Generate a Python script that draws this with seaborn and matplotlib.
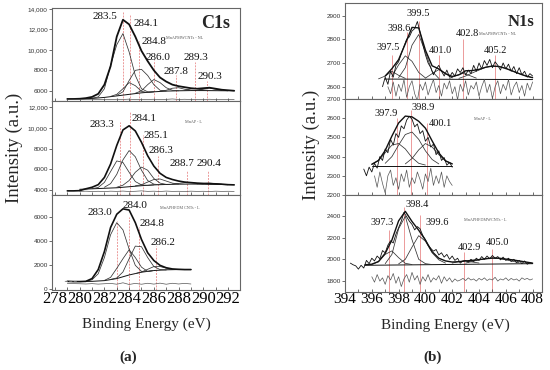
import numpy as np
import matplotlib
matplotlib.use("Agg")
import matplotlib.pyplot as plt
from matplotlib.ticker import FuncFormatter, MultipleLocator, FixedLocator
import seaborn as sns

# ============================================================ data
# each series: (first binding energy, step, intensities)
# ---- (a) C1s, MnAPMWCNTs - NL
c1_nl_env = (279.0, 0.5, [5200, 5200, 5220, 5280, 5400, 5700, 6600, 8400, 11300, 12950, 12500, 11300,
                          9900, 8900, 8000, 7300, 6900, 6600, 6450, 6350, 6250, 6200, 6250, 6300,
                          6200, 6100, 6050, 6000])
c1_nl_bg = (279.0, 1.0, [5200, 5200, 5250, 5350, 5500, 5650, 5800, 5900, 5970, 6000, 6020, 6020, 6010, 6000])
c1_nl_comp = [(281.0, 0.5, [5270, 5400, 6200, 8500, 10500, 11600, 9800, 7500, 6200, 5900, 5900]),
              (282.5, 0.5, [5450, 5650, 6200, 6800, 6500, 5950, 5820, 5900]),
              (283.0, 0.5, [5550, 5900, 7000, 8000, 8100, 7500, 6600, 6050, 5970]),
              (284.5, 0.5, [5760, 6000, 6600, 7100, 6800, 6300, 6050, 6000]),
              (286.5, 0.5, [5950, 6050, 6250, 6300, 6150, 6040]),
              (288.5, 0.5, [6050, 6180, 6220, 6100, 6030]),
              (289.5, 0.5, [6050, 6200, 6270, 6150, 6030])]
c1_nl_res = (279.0, 0.5, [5180, 5170, 5160, 5150, 5170, 5140, 5160, 5130, 5170, 5150, 5180, 5140, 5160, 5150,
                          5170, 5140, 5160, 5200, 5150, 5170, 5140, 5160, 5150, 5170, 5140, 5160, 5150, 5160])
c1_nl_peaks = [283.5, 284.1, 284.8, 286.0, 287.8, 289.3, 290.3]

# ---- (a) C1s, MnAP - L
c1_l_env = (279.0, 0.5, [3900, 3900, 3920, 4100, 4250, 4500, 5200, 6500, 8300, 9800, 10200, 9700, 8600,
                         7300, 6300, 5600, 5200, 5000, 4850, 4750, 4700, 4650, 4620, 4600, 4580, 4550,
                         4500, 4480])
c1_l_bg = (280.0, 1.0, [4050, 4100, 4150, 4200, 4300, 4400, 4480, 4520, 4550, 4560, 4550, 4530, 4500])
c1_l_comp = [(281.0, 0.5, [4110, 4230, 4720, 5770, 6800, 6650, 5700, 4800, 4480, 4430, 4480]),
             (282.0, 0.5, [4250, 4600, 5500, 6900, 7800, 7200, 5900, 4900, 4550, 4500]),
             (283.0, 0.5, [4250, 4450, 4900, 5700, 6200, 5900, 5100, 4650, 4530]),
             (284.5, 0.5, [4380, 4500, 4750, 5000, 5050, 4850, 4650, 4560]),
             (287.5, 0.5, [4560, 4620, 4700, 4700, 4620, 4560]),
             (289.5, 0.5, [4570, 4620, 4660, 4600, 4540])]
c1_l_res = (280.0, 0.5, [3850, 3870, 3840, 3860, 3830, 3870, 3850, 3880, 3840, 3860, 3900, 3850, 3870,
                         3840, 3880, 3850, 3860, 3840, 3870, 3850, 3860, 3840, 3870, 3850, 3860, 3850])
c1_l_peaks = [283.3, 284.1, 285.1, 286.3, 288.7, 290.4]

# ---- (a) C1s, MnAPHFDM CNTs - L
c1_h_env = (279.0, 0.5, [620, 600, 600, 620, 850, 1600, 3100, 5100, 6200, 6650, 6550, 5500, 4100, 3000,
                         2350, 1950, 1750, 1650, 1620, 1600, 1600])
c1_h_bg = (280.0, 1.0, [600, 620, 680, 850, 1150, 1380, 1520, 1580, 1600, 1600])
c1_h_comp = [(280.5, 0.5, [620, 750, 1250, 2600, 4500, 5500, 4900, 3300, 1950, 1450, 1440, 1520]),
             (282.0, 0.5, [700, 950, 1700, 2500, 3250, 2600, 1800, 1450, 1520]),
             (282.5, 0.5, [780, 900, 1400, 2500, 3550, 3500, 2600, 1850, 1600, 1560]),
             (284.5, 0.5, [1260, 1400, 1620, 1850, 1850, 1720, 1620, 1600])]
c1_h_res = (279.0, 0.5, [450, 430, 420, 400, 430, 390, 420, 450, 380, 500, 360, 450, 380, 460, 390, 470,
                         380, 460, 400, 450, 400])
c1_h_lead = (278.8, 0.5, [620, 610, 600])
c1_h_peaks = [283.0, 284.0, 284.8, 286.2]

# ---- (b) N1s, MnAPMWCNTs - NL
n1_nl_raw = (396.8, 0.2, [2600, 2640, 2610, 2665, 2640, 2690, 2705, 2740, 2770, 2800, 2810, 2835, 2845,
                          2875, 2830, 2780, 2735, 2700, 2680, 2650, 2675, 2690, 2665, 2645, 2670, 2640,
                          2660, 2645, 2675, 2660, 2680, 2650, 2670, 2655, 2690, 2665, 2700, 2675, 2710,
                          2690, 2715, 2680, 2705, 2690, 2670, 2700, 2675, 2695, 2665, 2685, 2655, 2680,
                          2650, 2665, 2640, 2655, 2645])
n1_nl_env = (397.0, 0.5, [2645, 2676, 2714, 2781, 2850, 2848, 2754, 2688, 2675, 2655, 2643, 2650, 2667,
                          2668, 2673, 2682, 2687, 2685, 2677, 2666, 2655, 2645, 2638])
n1_nl_bg = (397.0, 11.0, [2632, 2630])
n1_nl_comp = [(396.5, 0.5, [2633, 2645, 2665, 2648, 2635]),
              (397.5, 0.5, [2643, 2692, 2730, 2707, 2660, 2637]),
              (398.0, 0.5, [2638, 2680, 2775, 2820, 2745, 2665, 2635]),
              (400.0, 0.5, [2636, 2655, 2672, 2655, 2637]),
              (401.8, 0.5, [2635, 2647, 2656, 2647, 2636]),
              (402.5, 0.5, [2635, 2645, 2658, 2670, 2682, 2687, 2685, 2677, 2666, 2655, 2645, 2638])]
n1_nl_res = (397.2, 0.2, [2600, 2570, 2620, 2560, 2610, 2580, 2630, 2555, 2600, 2625, 2570, 2540, 2610,
                          2585, 2620, 2565, 2600, 2630, 2575, 2605, 2560, 2615, 2590, 2625, 2570, 2600,
                          2545, 2610, 2580, 2625, 2565, 2605, 2590, 2620, 2560, 2600, 2630, 2575, 2610,
                          2550, 2600, 2625, 2570, 2610, 2585, 2630, 2565, 2600, 2620, 2575, 2605, 2560,
                          2615, 2585, 2620])
n1_nl_peaks = [397.5, 398.6, 399.5, 401.0, 402.8, 405.2]

# ---- (b) N1s, MnAP - L
n1_l_raw = (395.4, 0.2, [2335, 2300, 2345, 2320, 2365, 2340, 2400, 2380, 2440, 2420, 2490, 2460, 2520,
                         2500, 2560, 2545, 2590, 2610, 2595, 2555, 2570, 2520, 2535, 2480, 2500, 2450,
                         2465, 2410, 2430, 2380, 2395, 2355, 2370, 2345])
n1_l_env = (396.0, 0.5, [2360, 2380, 2432, 2507, 2575, 2611, 2607, 2584, 2548, 2482, 2419, 2378, 2362])
n1_l_bg = (396.0, 6.0, [2353, 2353])
n1_l_comp = [(396.0, 0.5, [2360, 2380, 2420, 2460, 2468, 2440, 2395, 2365, 2356]),
             (397.0, 0.5, [2365, 2400, 2460, 2515, 2528, 2490, 2430, 2385, 2362]),
             (398.5, 0.5, [2362, 2390, 2435, 2468, 2450, 2410, 2378, 2362])]
n1_l_res = (396.2, 0.2, [2300, 2240, 2320, 2260, 2210, 2300, 2330, 2250, 2290, 2230, 2310, 2270, 2330,
                         2240, 2290, 2260, 2320, 2280, 2230, 2310, 2270, 2340, 2250, 2300, 2260, 2320,
                         2240, 2300, 2270, 2250])
n1_l_peaks = [397.9, 398.9, 400.1]

# ---- (b) N1s, MnAPHFDMWCNTs - L
n1_h_raw = (394.4, 0.2, [1965, 1950, 1940, 1910, 1945, 1920, 1990, 1960, 2010, 1985, 2030, 2005, 2080,
                         2060, 2130, 2170, 2150, 2230, 2290, 2350, 2430, 2390, 2350, 2320, 2270, 2300,
                         2280, 2220, 2180, 2130, 2100, 2075, 2090, 2040, 2060, 2020, 2045, 2000, 2030,
                         1990, 2010, 1965, 1985, 1990, 1975, 2000, 1980, 2010, 1990, 2025, 2000, 2030,
                         2005, 2035, 2010, 2025, 1995, 2020, 1990, 2010, 1980, 2000, 1970, 1990, 1960,
                         1985, 1955, 1970, 1960])
n1_h_env = (395.5, 0.5, [1950, 1955, 1980, 2055, 2177, 2353, 2440, 2347, 2267, 2176, 2070, 2010, 1985,
                         1975, 1978, 1985, 1990, 1997, 2005, 2012, 2010, 2002, 1995, 1985, 1975, 1965])
n1_h_bg = (395.5, 12.5, [1945, 1960])
n1_h_comp = [(396.0, 0.5, [1953, 1977, 2045, 2077, 2015, 1963, 1952]),
             (397.0, 0.5, [1960, 2045, 2280, 2395, 2180, 2000, 1960, 1952]),
             (398.0, 0.5, [1958, 2000, 2112, 2217, 2166, 2060, 1995, 1965]),
             (402.0, 0.5, [1965, 1980, 1985, 1975, 1966]),
             (403.0, 0.5, [1965, 1980, 1995, 2005, 2010, 2007, 1995, 1982, 1970])]
n1_h_res = (396.0, 0.2, [1840, 1790, 1860, 1800, 1830, 1770, 1850, 1810, 1870, 1780, 1840, 1750, 1820,
                         1860, 1790, 1880, 1810, 1850, 1770, 1840, 1800, 1860, 1790, 1830, 1810, 1850,
                         1780, 1840, 1800, 1830, 1790, 1820, 1800,
                         1810, 1825, 1805, 1830, 1810, 1820, 1800, 1825, 1810, 1830, 1805, 1820, 1810,
                         1835, 1800, 1820, 1810, 1830, 1805, 1825, 1810, 1820, 1800, 1830, 1815, 1825,
                         1810, 1820])
n1_h_peaks = [397.3, 398.4, 399.6, 402.9, 405.0]

sample_names = ["MnAPMWCNTs - NL", "MnAP - L", "MnAPHFDM CNTs - L",
                "MnAPMWCNTs - NL", "MnAP - L", "MnAPHFDMWCNTs - L"]

# ============================================================ style
sns.set_theme(style="white")
plt.rcParams['font.family'] = ['Liberation Serif', 'DejaVu Serif']
plt.rcParams['axes.linewidth'] = 0.8

W, H = 550, 370
fig = plt.figure(figsize=(5.5, 3.7), dpi=100)
fig.patch.set_facecolor('white')

RED = '#ec9a9a'


def rect(x0, y0, x1, y1):
    return [x0 / W, 1 - y1 / H, (x1 - x0) / W, (y1 - y0) / H]


def series(s):
    start, step, vals = s
    x = start + step * np.arange(len(vals))
    return x, np.asarray(vals, dtype=float)


def sline(ax, s, color, lw, alpha=1.0, ls='-'):
    x, y = series(s)
    sns.lineplot(x=x, y=y, ax=ax, color=color, linewidth=lw, alpha=alpha, linestyle=ls,
                 estimator=None, sort=False, legend=False)


def fmt(v, pos):
    return f"{v:,.0f}" if v >= 10000 else f"{v:.0f}"


def style_ax(ax, xlim, ylim, yticks, bottom, xsize=12):
    ax.set_xlim(*xlim)
    ax.set_ylim(*ylim)
    ax.set_facecolor('white')
    for sp in ax.spines.values():
        sp.set_color('#666666')
        sp.set_linewidth(0.8)
    ax.yaxis.set_major_locator(FixedLocator(yticks))
    ax.yaxis.set_major_formatter(FuncFormatter(fmt))
    ax.xaxis.set_major_locator(MultipleLocator(2))
    ax.xaxis.set_minor_locator(MultipleLocator(1))
    ax.tick_params(axis='y', direction='out', length=2, width=0.5, pad=1,
                   labelsize=4.6, colors='#333333', left=True)
    for lab in ax.get_yticklabels():
        lab.set_family('Liberation Sans')
    ax.tick_params(axis='x', which='both', direction='in', length=2, width=0.5,
                   bottom=True, colors='#333333')
    ax.set_xlabel('')
    ax.set_ylabel('')
    if bottom:
        ax.tick_params(axis='x', which='major', labelsize=xsize, labelcolor='black', pad=1)
    else:
        ax.tick_params(axis='x', which='major', labelbottom=False)


def draw(ax, env, bg, comps, res, raw=None, env_lw=1.2):
    sline(ax, bg, '#111111', 0.7)
    for c in comps:
        sline(ax, c, '#333333', 0.55)
    if raw is not None:
        sline(ax, raw, '#111111', 0.6)
    sline(ax, env, '#111111', env_lw)
    sline(ax, res, '#555555', 0.5)


def peaks(ax, vals, tops, bottom, ls):
    ax.vlines(vals, ymin=bottom, ymax=tops, colors=RED, linestyles=ls, linewidth=0.7, zorder=0.5)


def labels(ax, vals, pos, size):
    for v, (x, y) in zip(vals, pos):
        ax.text(x, y, f"{v:.1f}", fontsize=size, ha='center', va='center', color='#111111')


LX = (277.76, 292.97)
RX = (394.0, 408.7)
red_c = (0, (2.0, 1.2))

# ---------------- (a) top
ax = fig.add_axes(rect(52, 8, 240, 101))
peaks(ax, c1_nl_peaks, [13730, 13500, 10830, 9000, 7500, 8830, 7000], 5000, red_c)
draw(ax, c1_nl_env, c1_nl_bg, c1_nl_comp, c1_nl_res, env_lw=1.3)
style_ax(ax, LX, (5000, 14100), [6000, 8000, 10000, 12000, 14000], False)
labels(ax, c1_nl_peaks, [(282.05, 13250), (285.4, 12600), (286.0, 10800), (286.3, 9250),
                         (287.8, 7900), (289.4, 9300), (290.5, 7400)], 8)
ax.text(287.0, 11200, sample_names[0], fontsize=3, color='#555555', ha='left', va='center')
ax.text(291.0, 12600, "C1s", fontsize=13, fontweight='bold', ha='center', va='center')

# ---------------- (a) middle
ax = fig.add_axes(rect(52, 101, 240, 195))
peaks(ax, c1_l_peaks, [10600, 11550, 9330, 7270, 5840, 5840], 3500, red_c)
draw(ax, c1_l_env, c1_l_bg, c1_l_comp, c1_l_res)
style_ax(ax, LX, (3500, 12600), [4000, 6000, 8000, 10000, 12000], False)
labels(ax, c1_l_peaks, [(281.8, 10290), (285.2, 10860), (286.2, 9240), (286.6, 7810),
                        (288.25, 6570), (290.5, 6570)], 8)
ax.text(288.5, 10600, sample_names[1], fontsize=3, color='#555555', ha='left', va='center')

# ---------------- (a) bottom
ax = fig.add_axes(rect(52, 195, 240, 290))
peaks(ax, c1_h_peaks, [5630, 5930, 5100, 3540], -100, red_c)
draw(ax, c1_h_env, c1_h_bg, c1_h_comp, c1_h_res)
sline(ax, c1_h_lead, '#777777', 0.6, ls='--')
style_ax(ax, LX, (-100, 7800), [0, 2000, 4000, 6000], True, 12)
labels(ax, c1_h_peaks, [(281.6, 6330), (284.5, 6940), (285.85, 5430), (286.7, 3890)], 8)
ax.text(286.5, 6700, sample_names[2], fontsize=3, color='#555555', ha='left', va='center')

# ---------------- (b) top
ax = fig.add_axes(rect(345, 3, 542, 99))
peaks(ax, n1_nl_peaks, [2734, 2832, 2875, 2734, 2800, 2734], 2548, '-')
draw(ax, n1_nl_env, n1_nl_bg, n1_nl_comp, n1_nl_res, raw=n1_nl_raw, env_lw=1.0)
style_ax(ax, RX, (2548, 2953), [2600, 2700, 2800, 2900], False)
labels(ax, n1_nl_peaks, [(397.2, 2766), (398.06, 2844), (399.45, 2907), (401.1, 2752),
                         (403.1, 2823), (405.2, 2751)], 7.5)
ax.text(404.0, 2823, sample_names[3], fontsize=3, color='#555555', ha='left', va='center')
ax.text(407.1, 2873, "N1s", fontsize=12, fontweight='bold', ha='center', va='center')

# ---------------- (b) middle
ax = fig.add_axes(rect(345, 99, 542, 195))
peaks(ax, n1_l_peaks, [2600, 2643, 2574], 2200, '-')
draw(ax, n1_l_env, n1_l_bg, n1_l_comp, n1_l_res, raw=n1_l_raw, env_lw=1.0)
style_ax(ax, RX, (2200, 2700), [2200, 2300, 2400, 2500, 2600, 2700], False)
labels(ax, n1_l_peaks, [(397.1, 2623), (399.8, 2656), (401.1, 2570)], 7.5)
ax.text(403.6, 2598, sample_names[4], fontsize=3, color='#555555', ha='left', va='center')

# ---------------- (b) bottom
ax = fig.add_axes(rect(345, 195, 542, 292))
peaks(ax, n1_h_peaks, [2268, 2483, 2406, 2068, 2099], 1700, '-')
draw(ax, n1_h_env, n1_h_bg, n1_h_comp, n1_h_res, raw=n1_h_raw, env_lw=1.0)
style_ax(ax, RX, (1700, 2590), [1800, 2000, 2200, 2400], True, 11)
labels(ax, n1_h_peaks, [(396.8, 2337), (399.4, 2499), (400.9, 2337), (403.25, 2107),
                        (405.4, 2153)], 7.5)
ax.text(402.9, 2360, sample_names[5], fontsize=3, color='#555555', ha='left', va='center')

# ---------------- figure texts
fig.text(14 / W, 1 - 148 / H, "Intensity (a.u.)", rotation=90, fontsize=13.5, ha='center', va='center')
fig.text(311 / W, 1 - 145 / H, "Intensity (a.u.)", rotation=90, fontsize=13.5, ha='center', va='center')
fig.text(146 / W, 1 - 324 / H, "Binding Energy (eV)", fontsize=11, ha='center', va='center')
fig.text(445 / W, 1 - 325 / H, "Binding Energy (eV)", fontsize=11, ha='center', va='center')
fig.text(128 / W, 1 - 357 / H, "(a)", fontsize=11, fontweight='bold', ha='center', va='center')
fig.text(433 / W, 1 - 357 / H, "(b)", fontsize=11, fontweight='bold', ha='center', va='center')

fig.savefig("out.png", dpi=100, facecolor='white')
